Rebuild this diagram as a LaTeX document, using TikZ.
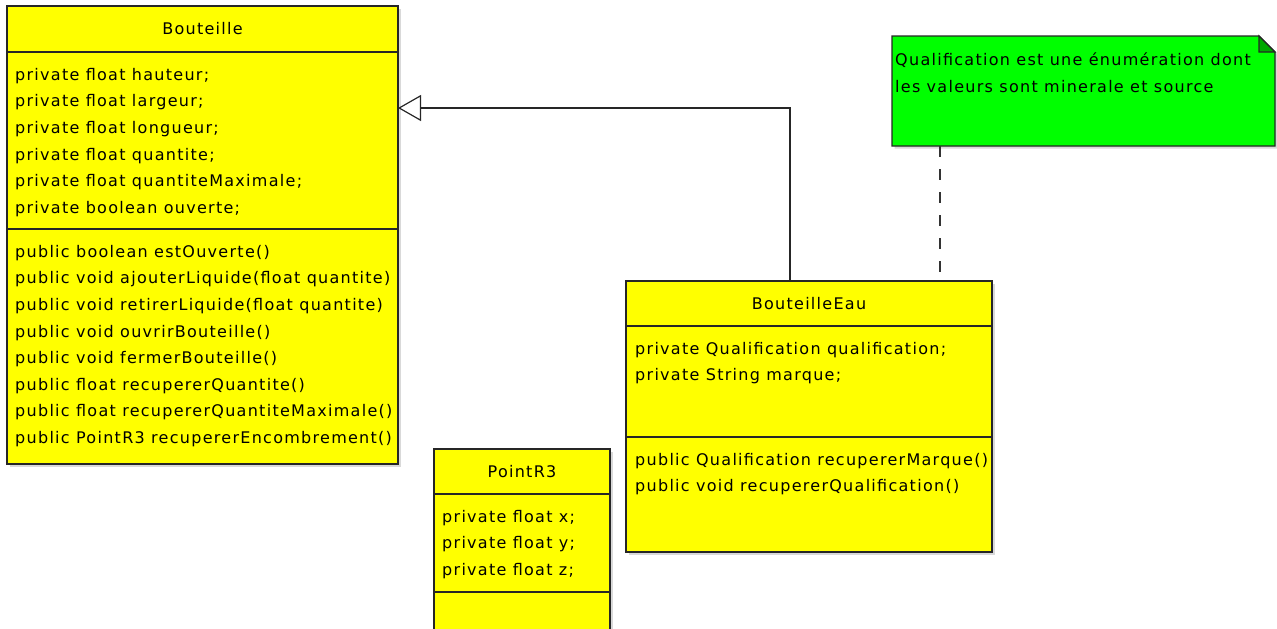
\documentclass[tikz,border=0pt]{standalone}
\usepackage{fontspec}
\setmainfont{DejaVu Sans}
\newfontfamily\umlfont[LetterSpace=8]{DejaVu Sans}
\usetikzlibrary{positioning,shadows,arrows.meta}
\definecolor{umlyellow}{HTML}{FFFF00}
\definecolor{notegreen}{HTML}{00FF00}
\definecolor{foldgreen}{HTML}{00A800}

\begin{document}
\begin{tikzpicture}[x=1pt, y=-1pt,
            compart/.style={draw=black!85, line width=1.2pt, fill=umlyellow, outer sep=0pt, inner sep=0pt,
                anchor=north west, drop shadow={shadow xshift=2.5pt, shadow yshift=-2.5pt, opacity=0.3}},
            umltitle/.style={compart, font=\umlfont\fontsize{16}{26.6}\selectfont},
            members/.style={anchor=north west, inner sep=0pt, align=left, font=\umlfont\fontsize{16}{26.6}\selectfont},
            inherit/.style={draw=black!85, line width=1.2pt, -{Triangle[open, length=23pt, width=26pt, fill=white]}},
            noteline/.style={draw=black!80, line width=1.2pt, dash pattern=on 11pt off 12pt}
        ]
            \useasboundingbox (0,0) rectangle (1277,629);

            % Bouteille
            \node[umltitle, minimum width=391pt, minimum height=46pt] (bTitle) at (7,6) {Bouteille};
            \node[compart, minimum width=391pt, minimum height=177pt, below=0pt of bTitle] (bAttr) {};
            \node[compart, minimum width=391pt, minimum height=235pt, below=0pt of bAttr] (bMeth) {};
            \node[members, below right=16pt and 8pt of bAttr.north west] (bAttrText) {private float hauteur;\\private float largeur;\\private float longueur;\\private float quantite;\\private float quantiteMaximale;\\private boolean ouverte;};
            \node[members, below right=16pt and 8pt of bMeth.north west] (bMethText) {public boolean estOuverte()\\public void ajouterLiquide(float quantite)\\public void retirerLiquide(float quantite)\\public void ouvrirBouteille()\\public void fermerBouteille()\\public float recupererQuantite()\\public float recupererQuantiteMaximale()\\public PointR3 recupererEncombrement()};

            % BouteilleEau
            \node[umltitle, minimum width=366pt, minimum height=45pt] (eauTitle) at (626,281) {BouteilleEau};
            \node[compart, minimum width=366pt, minimum height=111pt, below=0pt of eauTitle] (eauAttr) {};
            \node[compart, minimum width=366pt, minimum height=115pt, below=0pt of eauAttr] (eauMeth) {};
            \node[members, below right=16pt and 9pt of eauAttr.north west] (eauAttrText) {private Qualification qualification;\\private String marque;};
            \node[members, below right=16pt and 9pt of eauMeth.north west] (eauMethText) {public Qualification recupererMarque()\\public void recupererQualification()};

            % PointR3
            \node[umltitle, minimum width=176pt, minimum height=45pt] (pTitle) at (434,449) {PointR3};
            \node[compart, minimum width=176pt, minimum height=98pt, below=0pt of pTitle] (pAttr) {};
            \node[compart, minimum width=176pt, minimum height=70pt, below=0pt of pAttr] (pMeth) {};
            \node[members, below right=16pt and 8pt of pAttr.north west] (pAttrText) {private float x;\\private float y;\\private float z;};

            % Note
            \node[anchor=north west, minimum width=383pt, minimum height=110pt, inner sep=0pt, outer sep=0pt] (note) at (892,36) {};
            \fill[notegreen, drop shadow={shadow xshift=2.5pt, shadow yshift=-2.5pt, opacity=0.3}]
                (note.north west) -- ([xshift=-16pt]note.north east) -- ([yshift=-16pt]note.north east)
                -- (note.south east) -- (note.south west) -- cycle;
            \draw[draw=black!85, line width=1.2pt]
                (note.north west) -- ([xshift=-16pt]note.north east) -- ([yshift=-16pt]note.north east)
                -- (note.south east) -- (note.south west) -- cycle;
            \draw[draw=black!85, line width=1.2pt, fill=foldgreen]
                ([xshift=-16pt]note.north east) -- ([xshift=-16pt, yshift=-16pt]note.north east)
                -- ([yshift=-16pt]note.north east) -- cycle;
            \node[members, below right=17pt and 3pt of note.north west] (noteText) {Qualification est une énumération dont\\les valeurs sont minerale et source};

            % Connectors
            \coordinate (noteEnd) at ([xshift=314pt, yshift=9pt]eauTitle.north west);
            \draw[noteline] ([xshift=48pt]note.south west) -- (noteEnd);
            \draw[inherit] ([xshift=-19pt]eauTitle.north) |- ([yshift=-56pt]bAttr.north east);
        \end{tikzpicture}
\end{document}
